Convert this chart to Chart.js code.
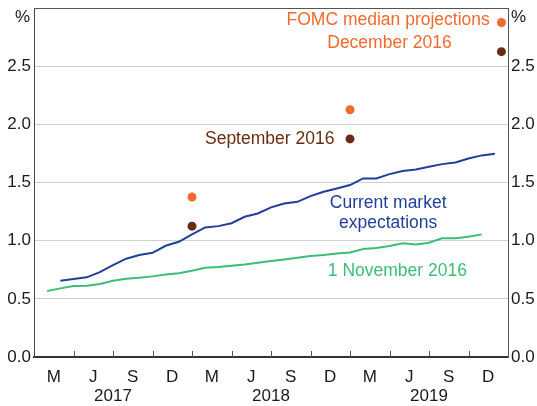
<!DOCTYPE html>
<html>
<head>
<meta charset="utf-8">
<script src="https://cdn.jsdelivr.net/npm/chart.js@4/dist/chart.umd.min.js"></script>
<style>
  body { margin: 0; background: #fff; }
  #wrap { width: 537px; height: 406px; position: relative; }
</style>
</head>
<body>
<div id="wrap"><canvas id="rateChart"></canvas></div>
<script>
/* ================= Data ================= */
// x values are months counted from the start of 2017 (12 = end of Dec 2017)
const quarterLetters = ["M", "J", "S", "D"];
const yearLabels = ["2017", "2018", "2019"];
const yTickValues = [0, 0.5, 1, 1.5, 2, 2.5, 3];

const currentMonths = [2, 3, 4, 5, 6, 7, 8, 9, 10, 11, 12, 13, 14, 15, 16, 17, 18,
  19, 20, 21, 22, 23, 24, 25, 26, 27, 28, 29, 30, 31, 32, 33, 34, 35];
const currentValues = [0.656, 0.67, 0.685, 0.73, 0.79, 0.845, 0.876, 0.896, 0.956,
  0.99, 1.054, 1.114, 1.125, 1.15, 1.205, 1.234, 1.286, 1.32, 1.334, 1.383, 1.42,
  1.449, 1.478, 1.535, 1.535, 1.572, 1.598, 1.612, 1.635, 1.658, 1.672, 1.706,
  1.733, 1.747];

const novMonths = [1, 2, 3, 4, 5, 6, 7, 8, 9, 10, 11, 12, 13, 14, 15, 16, 17, 18,
  19, 20, 21, 22, 23, 24, 25, 26, 27, 28, 29, 30, 31, 32, 33, 34];
const novValues = [0.567, 0.59, 0.61, 0.613, 0.627, 0.656, 0.673, 0.682, 0.693,
  0.71, 0.72, 0.742, 0.767, 0.773, 0.785, 0.796, 0.81, 0.825, 0.839, 0.853, 0.868,
  0.876, 0.89, 0.899, 0.928, 0.936, 0.954, 0.977, 0.968, 0.982, 1.02, 1.02, 1.034,
  1.054];

const fomcMonths = [12, 24, 35.5];
const fomcDec = [1.375, 2.125, 2.875];
const fomcSep = [1.125, 1.875, 2.625];

/* ================= Styles ================= */
const ORANGE = "#f26a2e";
const BROWN = "#6b2d12";
const BLUE = "#203f9a";
const GREEN = "#3cbd78";
const FONT = "'Liberation Sans', Arial, sans-serif";

// text notes placed in data coordinates
const notes = [
  { text: "FOMC median projections", x: 26.9, y: 2.895, color: ORANGE },
  { text: "December 2016", x: 27, y: 2.7, color: ORANGE },
  { text: "September 2016", x: 17.9, y: 1.873, color: BROWN },
  { text: "Current market", x: 26.9, y: 1.323, color: BLUE },
  { text: "expectations", x: 26.9, y: 1.151, color: BLUE },
  { text: "1 November 2016", x: 27.6, y: 0.739, color: GREEN },
];

const zip = (xs, ys) => xs.map((x, i) => ({ x: x, y: ys[i] }));

Chart.defaults.font.family = FONT;
Chart.defaults.font.size = 17;
Chart.defaults.color = "#1a1a1a";

/* ================= Frame, quarter ticks, % units and notes ================= */
const frameAndNotes = {
  id: "frameAndNotes",
  afterDraw(chart) {
    const { ctx, chartArea: a, scales } = chart;
    ctx.save();
    ctx.strokeStyle = "#555";
    ctx.lineWidth = 1;
    ctx.beginPath();
    ctx.moveTo(a.left, a.top + 0.5);
    ctx.lineTo(a.right, a.top + 0.5);
    for (let m = 3; m < 36; m += 3) {
      const x = Math.round(scales.x.getPixelForValue(m)) + 0.5;
      ctx.moveTo(x, a.bottom);
      ctx.lineTo(x, a.bottom - 6);
    }
    ctx.stroke();

    ctx.font = "17px " + FONT;
    ctx.textBaseline = "middle";
    ctx.fillStyle = "#1a1a1a";
    const unitY = scales.y.getPixelForValue(3) + 9;
    ctx.textAlign = "right";
    ctx.fillText("%", scales.y.right - 4, unitY);
    ctx.textAlign = "left";
    ctx.fillText("%", scales.y2.left + 3, unitY);

    ctx.font = "17.5px " + FONT;
    ctx.textAlign = "center";
    notes.forEach(function (n) {
      ctx.fillStyle = n.color;
      ctx.fillText(n.text, scales.x.getPixelForValue(n.x), scales.y.getPixelForValue(n.y));
    });
    ctx.restore();
  },
};

function yLabel(v) {
  return v === 3 ? "" : v.toFixed(1);
}

new Chart(document.getElementById("rateChart"), {
  type: "line",
  data: {
    datasets: [
      {
        label: "Current market expectations",
        data: zip(currentMonths, currentValues),
        borderColor: BLUE,
        borderWidth: 2,
        pointRadius: 0,
        tension: 0,
      },
      {
        label: "1 November 2016",
        data: zip(novMonths, novValues),
        borderColor: GREEN,
        borderWidth: 2,
        pointRadius: 0,
        tension: 0,
      },
      {
        label: "FOMC December 2016",
        data: zip(fomcMonths, fomcDec),
        showLine: false,
        pointRadius: 4.5,
        pointBackgroundColor: ORANGE,
        pointBorderWidth: 0,
      },
      {
        label: "FOMC September 2016",
        data: zip(fomcMonths, fomcSep),
        showLine: false,
        pointRadius: 4.5,
        pointBackgroundColor: BROWN,
        pointBorderWidth: 0,
      },
    ],
  },
  options: {
    responsive: true,
    maintainAspectRatio: false,
    animation: false,
    layout: { autoPadding: false, padding: { top: 8, left: 0, right: 0, bottom: 0 } },
    plugins: { legend: { display: false }, tooltip: { enabled: false } },
    scales: {
      x: {
        type: "linear",
        position: "bottom",
        weight: 0,
        min: 0,
        max: 36,
        afterBuildTicks: function (s) {
          s.ticks = [];
          for (let q = 0; q < 12; q++) s.ticks.push({ value: q * 3 + 1.5 });
        },
        ticks: {
          autoSkip: false,
          maxRotation: 0,
          padding: 10,
          callback: function (v, i) { return quarterLetters[i % 4]; },
        },
        grid: { display: false, drawTicks: false },
        border: { color: "#333", width: 2 },
        afterFit: function (s) { s.height = 28; },
      },
      years: {
        type: "linear",
        position: "bottom",
        weight: 1,
        min: 0,
        max: 36,
        afterBuildTicks: function (s) {
          s.ticks = [{ value: 6 }, { value: 18 }, { value: 30 }];
        },
        ticks: {
          autoSkip: false,
          maxRotation: 0,
          padding: 1,
          callback: function (v, i) { return yearLabels[i]; },
        },
        grid: { display: false, drawTicks: false },
        border: { display: false },
        afterFit: function (s) { s.height = 21; },
      },
      y: {
        position: "left",
        min: 0,
        max: 3,
        afterBuildTicks: function (s) { s.ticks = yTickValues.map(v => ({ value: v })); },
        ticks: { padding: 3, callback: yLabel },
        grid: {
          drawTicks: false,
          color: function (c) {
            const v = c.tick ? c.tick.value : 0;
            return v === 0 || v === 3 ? "rgba(0,0,0,0)" : "#cfcfcf";
          },
        },
        border: { color: "#444", width: 1 },
        afterFit: function (s) { s.width = 34; s.paddingTop = 0; s.paddingBottom = 0; },
      },
      y2: {
        position: "right",
        min: 0,
        max: 3,
        afterBuildTicks: function (s) { s.ticks = yTickValues.map(v => ({ value: v })); },
        ticks: { padding: 3, callback: yLabel },
        grid: { drawOnChartArea: false, drawTicks: false },
        border: { color: "#555", width: 1 },
        afterFit: function (s) { s.width = 29; s.paddingTop = 0; s.paddingBottom = 0; },
      },
    },
  },
  plugins: [frameAndNotes],
});
</script>
</body>
</html>
